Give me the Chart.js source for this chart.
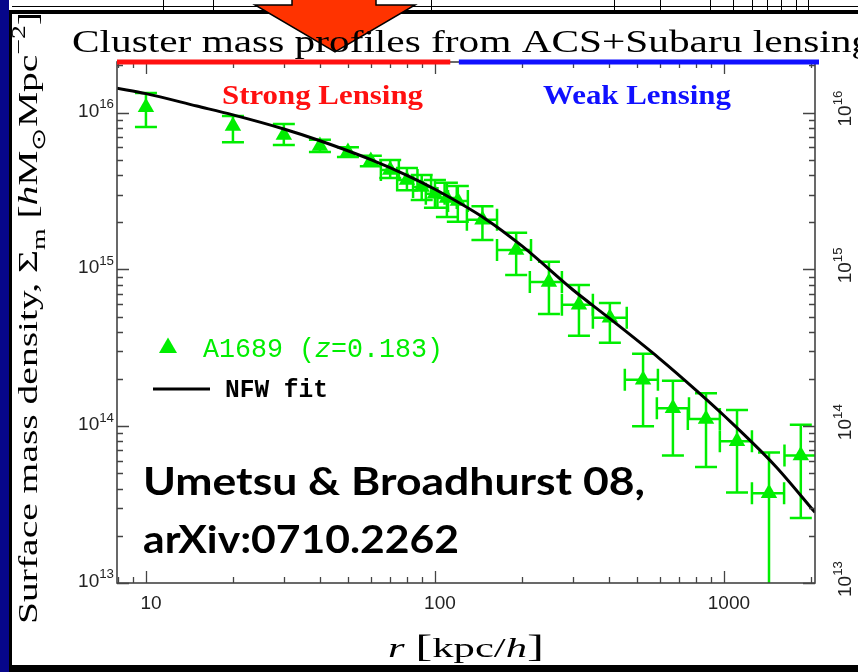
<!DOCTYPE html>
<html>
<head>
<meta charset="utf-8">
<title>A1689 mass profile</title>
<script src="https://cdn.jsdelivr.net/npm/chart.js@4.4.1/dist/chart.umd.min.js"></script>
<style>
  html, body { margin: 0; padding: 0; background: #fff; }
  canvas { display: block; }
</style>
</head>
<body>
<canvas id="massChart" width="858" height="672"></canvas>
<script>
// A1689 surface mass density, ACS strong lensing + Subaru weak lensing (h Msun / Mpc^2)
const rData   = [10, 20, 30, 40, 50, 60, 70, 80, 90, 100, 110, 120,
                 146, 191, 248, 315, 403, 525, 666, 867, 1110, 1432, 1845];
const sigma   = [1.08e16, 8.2e15, 7.2e15, 6.12e15, 5.6e15, 4.9e15, 4.3e15, 3.72e15, 3.35e15, 3.03e15, 2.85e15, 2.73e15,
                 2.07e15, 1.33e15, 8.3e14, 5.94e14, 4.91e14, 1.98e14, 1.3e14, 1.11e14, 8.0e13, 3.74e13, 6.5e13];
const sigmaHi = [1.33e16, 9.5e15, 8.45e15, 6.7e15, 6.0e15, 5.3e15, 4.98e15, 4.43e15, 4.0e15, 3.72e15, 3.56e15, 3.4e15,
                 2.53e15, 1.71e15, 1.12e15, 7.96e14, 6.1e14, 2.9e14, 1.95e14, 1.62e14, 1.27e14, 6.8e13, 1.02e14];
const sigmaLo = [8.1e15, 6.46e15, 6.21e15, 5.6e15, 5.2e15, 4.55e15, 3.82e15, 3.2e15, 2.77e15, 2.47e15, 2.16e15, 2.01e15,
                 1.54e15, 9.2e14, 5.2e14, 3.77e14, 3.4e14, 1.0e14, 6.5e13, 5.5e13, 3.77e13, 5e12, 2.6e13];
// radial bin edges (null = no horizontal bar)
const rLo = [null, null, null, null, null, null, 65, 74, 84, 93, 102, 111,
             129, 164, 213, 275, 352, 454, 586, 750, 968, 1250, 1620];
const rHi = [null, null, null, null, null, null, 75, 87, 97, 108, 119, 130,
             164, 215, 275, 352, 461, 591, 757, 968, 1250, 1615, 2100];

// NFW fit
const rFit     = [7.94, 10, 15, 20, 30, 40, 60, 80, 100, 150, 200, 300, 400, 600, 800, 1000, 1500, 2066];
const sigmaFit = [1.43e16, 1.32e16, 1.1e16, 9.66e15, 7.85e15, 6.61e15, 5.01e15, 3.98e15, 3.24e15, 2.09e15,
                  1.41e15, 7.41e14, 4.9e14, 2.69e14, 1.7e14, 1.17e14, 5.62e13, 2.82e13];

// axes
const rMin = 7.94, rMax = 2066;
const sigmaMin = 1e13, sigmaMax = 2.1e16;
const xTicks = [10, 100, 1000];
const xTickLabels = ['10', '100', '1000'];
const yTickExps = [13, 14, 15, 16];

// strong / weak lensing regimes along the top axis
const strongRange = [7.94, 113];
const weakRange = [121, 2066];

const GREEN = '#00ee00';
const AXIS = '#444';

function layoutRich(ctx, segs, size, family) {
  let w = 0;
  const parts = segs.map(s => {
    const fs = (s.sub || s.sup) ? size * 0.7 : size * (s.scale || 1);
    const font = (s.italic ? 'italic ' : '') + (s.bold ? 'bold ' : '') + fs + 'px ' + family;
    ctx.font = font;
    const p = { t: s.t, font, x: w, dy: s.sub ? size * 0.28 : s.sup ? -size * 0.45 : 0 };
    w += ctx.measureText(s.t).width;
    return p;
  });
  return { parts, width: w };
}

// draw a run of mixed text; optionally squeeze it to a given width
function drawRich(ctx, segs, x, y, o) {
  const lay = layoutRich(ctx, segs, o.size, o.family);
  const k = o.width ? o.width / lay.width : 1;
  const shift = o.align === 'center' ? -lay.width / 2 : o.align === 'right' ? -lay.width : 0;
  ctx.save();
  ctx.translate(x, y);
  if (o.angle) ctx.rotate(o.angle);
  ctx.scale(k, 1);
  ctx.fillStyle = o.color || '#000';
  ctx.textAlign = 'left';
  ctx.textBaseline = 'alphabetic';
  lay.parts.forEach(p => { ctx.font = p.font; ctx.fillText(p.t, shift + p.x, p.dy); });
  ctx.restore();
}

function logTicks(min, max) {
  const out = [];
  for (let d = Math.floor(Math.log10(min)); d <= Math.ceil(Math.log10(max)); d++) {
    for (let m = 1; m <= 9; m++) {
      const v = m * Math.pow(10, d);
      if (v >= min * 0.999 && v <= max * 1.001) out.push({ v, major: m === 1 });
    }
  }
  return out;
}

const errorBars = {
  id: 'errorBars',
  beforeDatasetsDraw(chart) {
    const { ctx, chartArea: a, scales: { x, y } } = chart;
    ctx.save();
    ctx.beginPath();
    ctx.rect(a.left, a.top, a.width, a.height);
    ctx.clip();
    ctx.strokeStyle = GREEN;
    ctx.lineWidth = 2.5;
    const cap = 11;
    rData.forEach((r, i) => {
      const px = x.getPixelForValue(r), py = y.getPixelForValue(sigma[i]);
      const yHi = y.getPixelForValue(sigmaHi[i]), yLo = y.getPixelForValue(sigmaLo[i]);
      ctx.beginPath();
      ctx.moveTo(px, yHi); ctx.lineTo(px, yLo);
      ctx.moveTo(px - cap, yHi); ctx.lineTo(px + cap, yHi);
      ctx.moveTo(px - cap, yLo); ctx.lineTo(px + cap, yLo);
      if (rLo[i] !== null) {
        const xl = x.getPixelForValue(rLo[i]), xh = x.getPixelForValue(rHi[i]);
        ctx.moveTo(xl, py); ctx.lineTo(xh, py);
        ctx.moveTo(xl, py - cap); ctx.lineTo(xl, py + cap);
        ctx.moveTo(xh, py - cap); ctx.lineTo(xh, py + cap);
      }
      ctx.stroke();
    });
    ctx.restore();
  }
};

const decorations = {
  id: 'decorations',
  beforeDraw(chart) {
    const ctx = chart.ctx;
    ctx.save();
    ctx.fillStyle = '#fff';
    ctx.fillRect(0, 0, chart.width, chart.height);
    ctx.restore();
  },
  afterDraw(chart) {
    const { ctx, chartArea: a, scales: { x, y } } = chart;
    ctx.save();

    // frame and inward ticks on all four sides
    ctx.strokeStyle = AXIS;
    ctx.lineWidth = 1.6;
    ctx.strokeRect(a.left, a.top, a.width, a.height);
    ctx.lineWidth = 1.3;
    ctx.beginPath();
    logTicks(rMin, rMax).forEach(t => {
      const px = Math.round(x.getPixelForValue(t.v)) + 0.5, len = t.major ? 12 : 6;
      ctx.moveTo(px, a.bottom); ctx.lineTo(px, a.bottom - len);
      ctx.moveTo(px, a.top); ctx.lineTo(px, a.top + len);
    });
    logTicks(sigmaMin, sigmaMax).forEach(t => {
      const py = Math.round(y.getPixelForValue(t.v)) + 0.5, len = t.major ? 12 : 6;
      ctx.moveTo(a.left, py); ctx.lineTo(a.left + len, py);
      ctx.moveTo(a.right, py); ctx.lineTo(a.right - len, py);
    });
    ctx.stroke();

    // regime bars along the top
    ctx.lineWidth = 5;
    ctx.strokeStyle = '#ff1010';
    ctx.beginPath();
    ctx.moveTo(x.getPixelForValue(strongRange[0]), a.top);
    ctx.lineTo(x.getPixelForValue(strongRange[1]), a.top);
    ctx.stroke();
    ctx.strokeStyle = '#1010ff';
    ctx.beginPath();
    ctx.moveTo(x.getPixelForValue(weakRange[0]), a.top);
    ctx.lineTo(x.getPixelForValue(weakRange[1]) + 4, a.top);
    ctx.stroke();

    // tick labels
    const sans = '"Liberation Sans", Arial, sans-serif';
    xTicks.forEach((v, i) => {
      drawRich(ctx, [{ t: xTickLabels[i] }], x.getPixelForValue(v) + 5, a.bottom + 26,
        { size: 19, family: sans, align: 'center', color: '#222' });
    });
    yTickExps.forEach(e => {
      const py = y.getPixelForValue(Math.pow(10, e));
      const segs = [{ t: '10' }, { t: String(e), sup: true }];
      drawRich(ctx, segs, a.left - 3, py + 4, { size: 19, family: sans, align: 'right', color: '#222' });
      drawRich(ctx, segs, a.right + 36, py - 4, { size: 19, family: sans, align: 'center', angle: -Math.PI / 2, color: '#222' });
    });

    // slide chrome behind the heading: table strip, rule, arrow
    ctx.strokeStyle = '#000';
    ctx.lineWidth = 1;
    ctx.beginPath();
    [163, 213, 431, 614, 660, 710, 733, 752, 767, 781, 796, 808].forEach(px => {
      ctx.moveTo(px + 0.5, 0); ctx.lineTo(px + 0.5, 10);
    });
    ctx.moveTo(12, 6.5); ctx.lineTo(858, 6.5);
    ctx.stroke();
    ctx.fillStyle = '#000';
    ctx.fillRect(10, 10, 848, 4);

    ctx.fillStyle = '#ff3300';
    ctx.strokeStyle = '#000';
    ctx.lineWidth = 1.5;
    ctx.beginPath();
    ctx.moveTo(292, -2); ctx.lineTo(376, -2); ctx.lineTo(376, 5);
    ctx.lineTo(415, 5); ctx.lineTo(335, 52); ctx.lineTo(255, 5); ctx.lineTo(292, 5);
    ctx.closePath();
    ctx.fill();
    ctx.stroke();

    // titles
    const serif = '"Liberation Serif", "Times New Roman", serif';
    drawRich(ctx, [{ t: 'Cluster mass profiles from ACS+Subaru lensing' }], 72, 52,
      { size: 31, family: serif, width: 800 });
    drawRich(ctx, [
      { t: 'Surface mass density, Σ' }, { t: 'm', sub: true }, { t: ' [' },
      { t: 'h', italic: true }, { t: 'M' }, { t: '⊙', sub: true }, { t: 'Mpc' },
      { t: '−2', sup: true }, { t: ']' }
    ], 37, 318, { size: 27, family: serif, align: 'center', angle: -Math.PI / 2, width: 612 });
    drawRich(ctx, [
      { t: 'r', italic: true }, { t: ' ' }, { t: '[', scale: 1.2 }, { t: 'kpc/' },
      { t: 'h', italic: true }, { t: ']', scale: 1.2 }
    ], (a.left + a.right) / 2, 657, { size: 27, family: serif, align: 'center', width: 156 });

    // regime labels
    drawRich(ctx, [{ t: 'Strong Lensing', bold: true }], 222, 104,
      { size: 28, family: serif, width: 201, color: '#ff1010' });
    drawRich(ctx, [{ t: 'Weak Lensing', bold: true }], 543, 104,
      { size: 28, family: serif, width: 188, color: '#1010ff' });

    // legend
    const mono = '"Liberation Mono", "Courier New", monospace';
    const ds = chart.data.datasets;
    ctx.fillStyle = ds[1].backgroundColor;
    ctx.beginPath();
    ctx.moveTo(168, 337.5); ctx.lineTo(177, 353); ctx.lineTo(159, 353);
    ctx.closePath();
    ctx.fill();
    drawRich(ctx, [{ t: 'A1689 (' }, { t: 'z', italic: true }, { t: '=0.183)' }], 203, 357,
      { size: 27, family: mono, width: 240, color: GREEN });
    ctx.strokeStyle = ds[0].borderColor;
    ctx.lineWidth = 3;
    ctx.beginPath();
    ctx.moveTo(153, 389); ctx.lineTo(210, 389);
    ctx.stroke();
    drawRich(ctx, [{ t: ds[0].label, bold: true }], 225, 397,
      { size: 26, family: mono, width: 103 });

    // reference note
    const note = 'Lato, "Open Sans", sans-serif';
    drawRich(ctx, [{ t: 'Umetsu & Broadhurst 08,', bold: true }], 143, 495,
      { size: 38, family: note, width: 502 });
    drawRich(ctx, [{ t: 'arXiv:0710.2262', bold: true }], 143, 553,
      { size: 38, family: note, width: 316 });

    // slide borders
    ctx.fillStyle = '#06068a';
    ctx.fillRect(0, 0, 9, 672);
    ctx.fillStyle = '#000';
    ctx.fillRect(9, 10, 3, 660);
    ctx.fillRect(9, 665, 849, 7);
    ctx.restore();
  }
};

new Chart(document.getElementById('massChart'), {
  type: 'scatter',
  data: {
    datasets: [
      {
        type: 'line',
        label: 'NFW fit',
        data: rFit.map((r, i) => ({ x: r, y: sigmaFit[i] })),
        borderColor: '#000',
        borderWidth: 3,
        pointRadius: 0,
        cubicInterpolationMode: 'monotone',
        fill: false,
        order: 0
      },
      {
        label: 'A1689 (z=0.183)',
        data: rData.map((r, i) => ({ x: r, y: sigma[i] })),
        pointStyle: 'triangle',
        pointRadius: 9.5,
        backgroundColor: GREEN,
        borderWidth: 0,
        order: 1
      }
    ]
  },
  options: {
    responsive: false,
    animation: false,
    devicePixelRatio: 1,
    layout: { padding: { left: 117, top: 62, right: 43, bottom: 89 } },
    scales: {
      x: { type: 'logarithmic', min: rMin, max: rMax, display: false },
      y: { type: 'logarithmic', min: sigmaMin, max: sigmaMax, display: false }
    },
    plugins: { legend: { display: false }, tooltip: { enabled: false } }
  },
  plugins: [errorBars, decorations]
});
</script>
</body>
</html>
